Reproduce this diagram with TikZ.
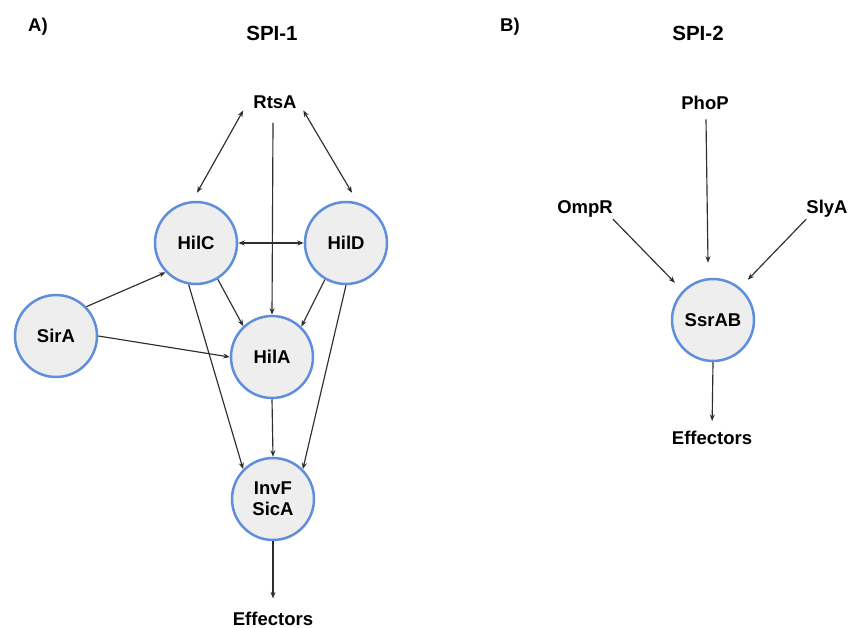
\documentclass[tikz,border=0pt]{standalone}
\usepackage{fontspec}
\setmainfont{Liberation Sans}
\usetikzlibrary{arrows.meta}
\definecolor{circblue}{HTML}{5F8FDC}
\definecolor{circfill}{HTML}{EEEEEE}
\definecolor{arrowgray}{HTML}{2E2E2E}
\begin{document}
\begin{tikzpicture}[x=1pt,y=-1pt,
  gene/.style={circle, draw=circblue, fill=circfill, line width=2.5pt, minimum size=82pt, inner sep=0pt, font=\fontsize{18.5}{21}\selectfont\bfseries, align=center},
  lbl/.style={inner sep=0pt, anchor=base, font=\fontsize{18.5}{21}\selectfont\bfseries},
  ttl/.style={inner sep=0pt, anchor=base, font=\fontsize{20.5}{24}\selectfont\bfseries},
  conn/.style={draw=arrowgray, line width=1.15pt, -{Stealth[length=6.5pt,width=5pt]}},
  biconn/.style={draw=arrowgray, line width=1.15pt, {Stealth[length=6.5pt,width=5pt]}-{Stealth[length=6.5pt,width=5pt]}}]
\useasboundingbox (0,0) rectangle (850,628);
\fill[white] (0,0) rectangle (850,628);
% titles
\node[lbl] (labA) at (38,31.5) {A)};
\node[ttl] (spi1) at (272,40.3) {SPI-1};
\node[lbl] (labB) at (510,31.5) {B)};
\node[ttl] (spi2) at (698,40.3) {SPI-2};
% SPI-1
\node[lbl] (rtsa) at (275,108.6) {RtsA};
\node[gene] (hilc) at (196,243) {HilC};
\node[gene] (hild) at (346,243) {HilD};
\node[gene] (sira) at (56,336) {SirA};
\node[gene] (hila) at (272,357) {HilA};
\node[gene] (invf) at (273,499) {InvF\\SicA};
\node[lbl] (effa) at (273,625) {Effectors};
\draw[biconn] ([xshift=-10pt,yshift=-1.5pt]rtsa.south west) -- ([xshift=1pt,yshift=8pt]hilc.north);
\draw[biconn] ([xshift=6.5pt,yshift=-1.5pt]rtsa.south east) -- ([xshift=6pt,yshift=8pt]hild.north);
\draw[conn] ([xshift=-2pt,yshift=-14pt]rtsa.south) -- (hila.north);
\draw[biconn] (hilc.east) -- (hild.west);
\draw[conn] (sira.44) -- (hilc.224);
\draw[conn] (sira.east) -- (hila.west);
\draw[conn] (hilc.-59) -- (hila.133);
\draw[conn] (hild.240) -- (hila.46);
\draw[conn] (hilc.-100) -- (invf.135);
\draw[conn] (hild.south) -- (invf.45);
\draw[conn] (hila.south) -- (invf.north);
\draw[conn, shorten >=13pt] (invf.south) -- (effa.north);
% SPI-2
\node[lbl] (phop) at (705,109.6) {PhoP};
\node[lbl] (ompr) at (585,213.6) {OmpR};
\node[lbl] (slya) at (827,213.6) {SlyA};
\node[gene] (ssrab) at (713,320) {SsrAB};
\node[lbl] (effb) at (712,444.6) {Effectors};
\draw[conn] ([xshift=1pt,yshift=-9.5pt]phop.south) -- ([xshift=-5pt,yshift=15pt]ssrab.north);
\draw[conn, shorten >=11pt] ([yshift=-1.5pt]ompr.south east) -- (ssrab.136);
\draw[conn, shorten >=11pt] ([yshift=-1.5pt]slya.south west) -- (ssrab.50);
\draw[conn, shorten >=10pt] (ssrab.south) -- (effb.north);
\end{tikzpicture}
\end{document}
